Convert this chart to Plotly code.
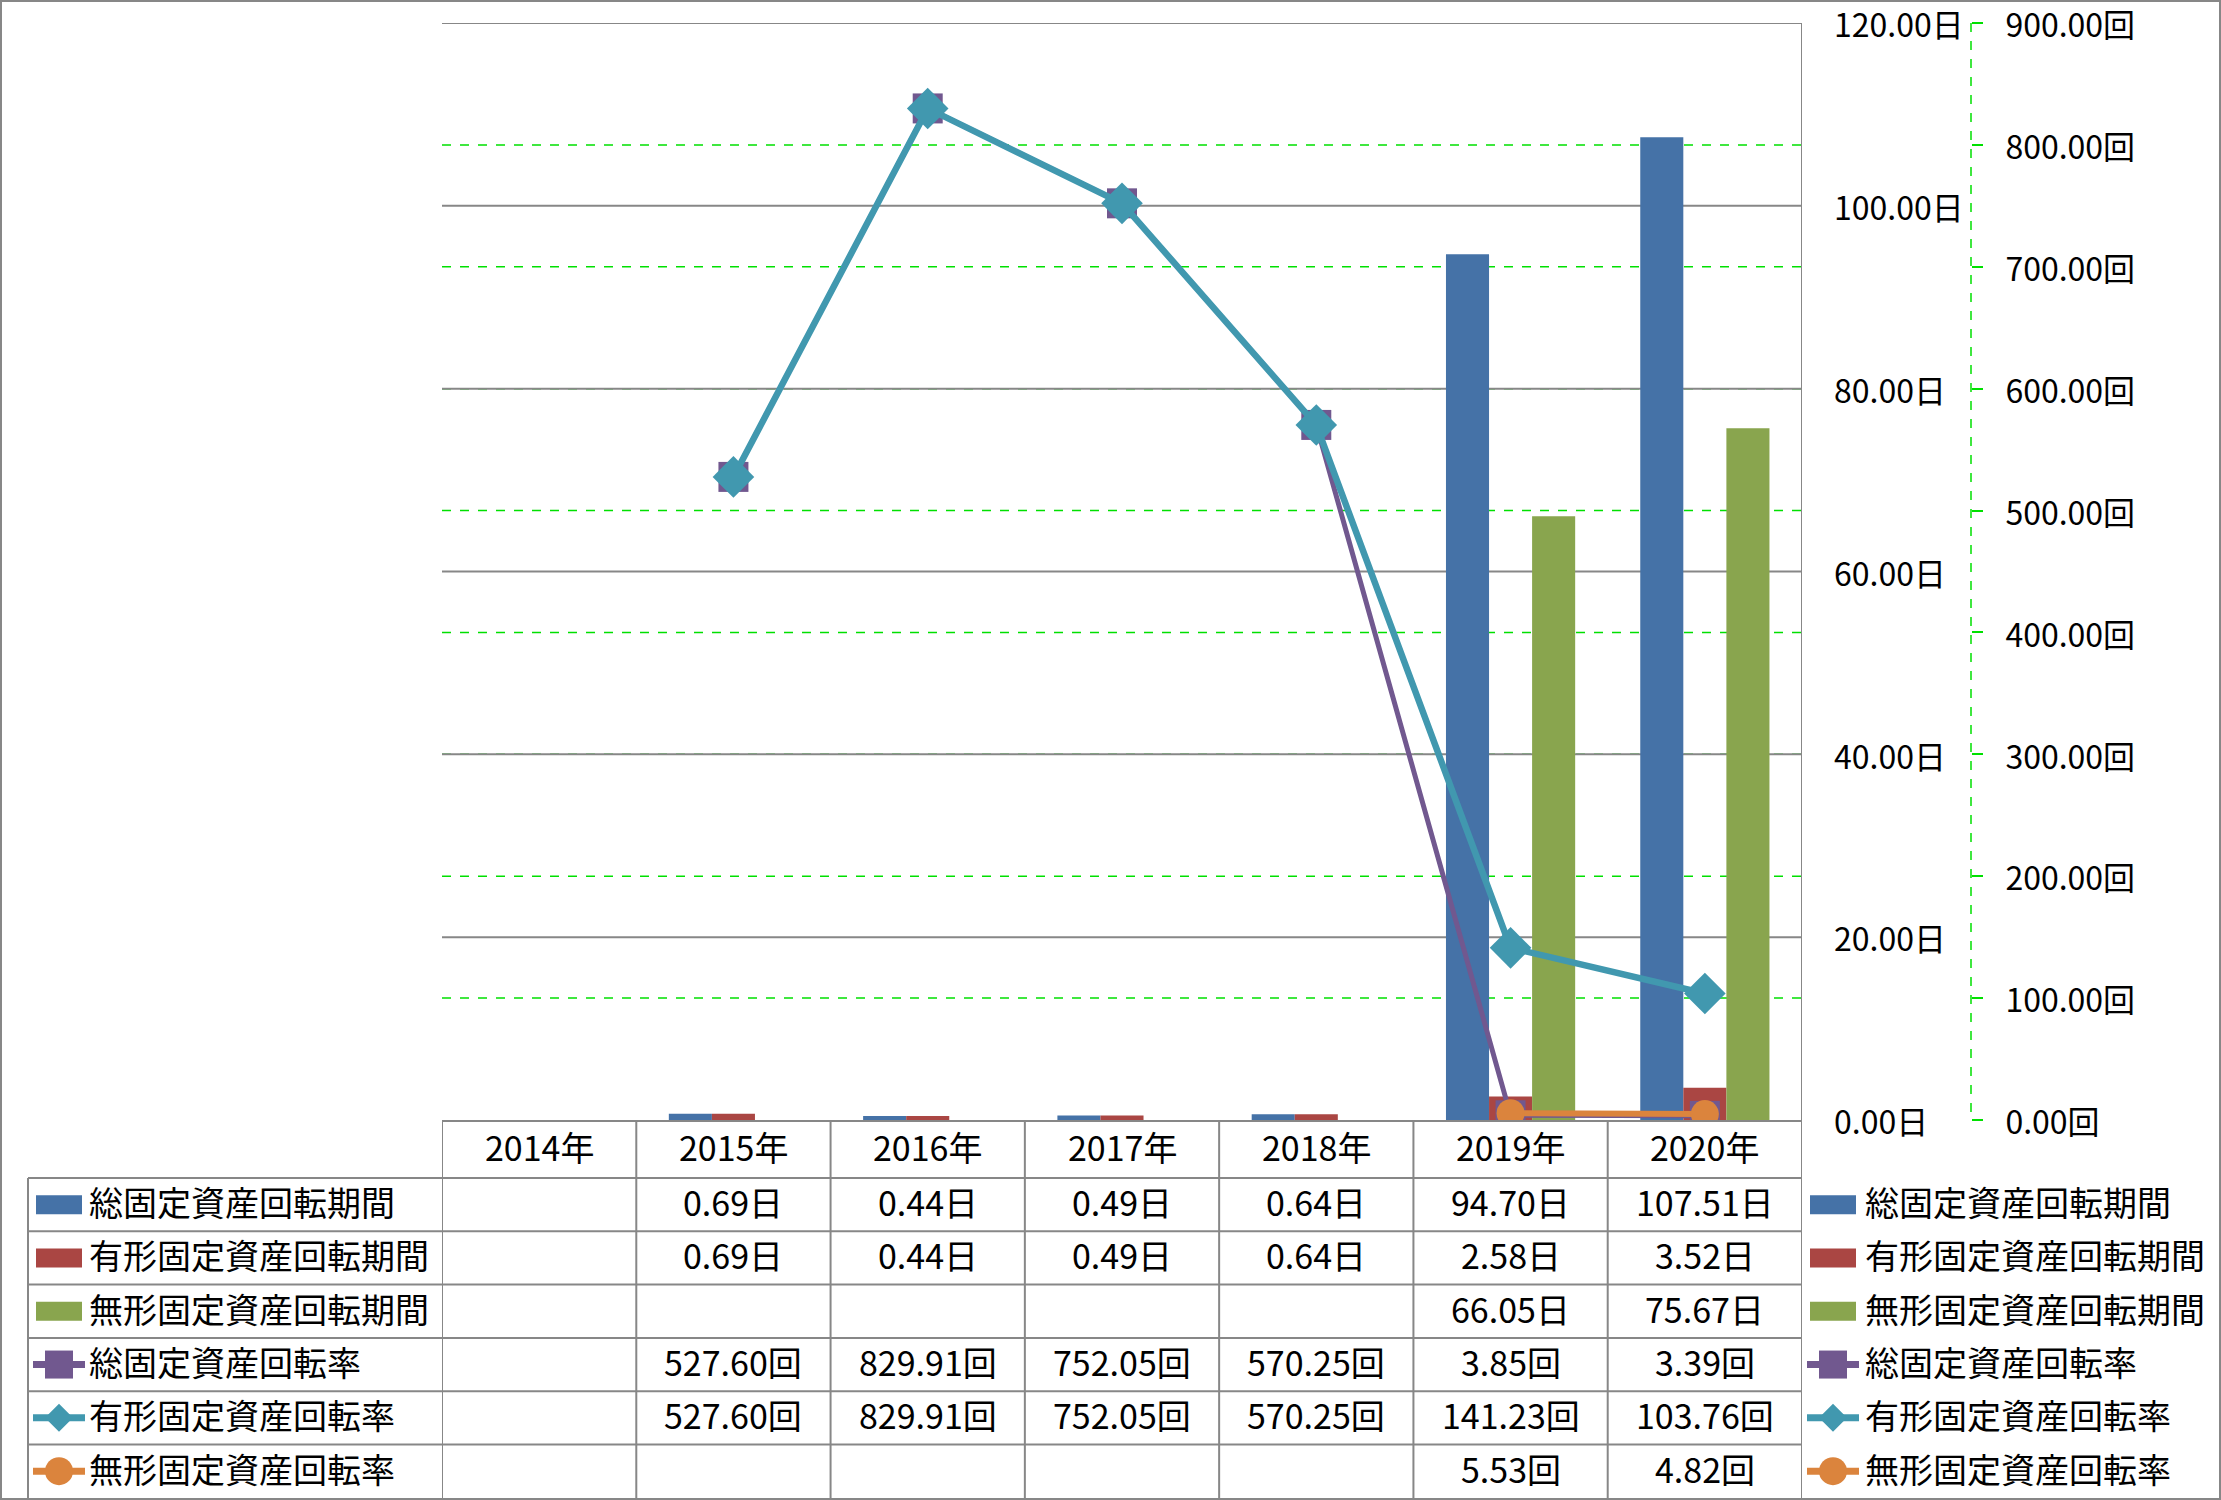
import plotly.graph_objects as go

W, H = 2221, 1500
FONT = "Noto Sans CJK JP"
FS = 34
TICK_FS = 32
GRAY = "#878787"
GREEN = "#00E000"
YSHIFT = 3

# ---------------- data ----------------
years = ["2014年", "2015年", "2016年", "2017年", "2018年", "2019年", "2020年"]

total_period = [None, 0.69, 0.44, 0.49, 0.64, 94.70, 107.51]
tangible_period = [None, 0.69, 0.44, 0.49, 0.64, 2.58, 3.52]
intangible_period = [None, None, None, None, None, 66.05, 75.67]
total_turnover = [None, 527.60, 829.91, 752.05, 570.25, 3.85, 3.39]
tangible_turnover = [None, 527.60, 829.91, 752.05, 570.25, 141.23, 103.76]
intangible_turnover = [None, None, None, None, None, 5.53, 4.82]

names = ["総固定資産回転期間", "有形固定資産回転期間", "無形固定資産回転期間",
         "総固定資産回転率", "有形固定資産回転率", "無形固定資産回転率"]
units = ["日", "日", "日", "回", "回", "回"]
series = [total_period, tangible_period, intangible_period,
          total_turnover, tangible_turnover, intangible_turnover]
colors = ["#4572A7", "#AA4643", "#89A54E", "#71588F", "#4198AF", "#DB843D"]
kinds = ["bar", "bar", "bar", "square", "diamond", "circle"]

day_ticks = [0, 20, 40, 60, 80, 100, 120]
day_labels = ["0.00日", "20.00日", "40.00日", "60.00日", "80.00日", "100.00日", "120.00日"]
count_ticks = [0, 100, 200, 300, 400, 500, 600, 700, 800, 900]
count_labels = ["0.00回", "100.00回", "200.00回", "300.00回", "400.00回", "500.00回",
                "600.00回", "700.00回", "800.00回", "900.00回"]


def X(px):
    return px / W


def Y(py):
    return 1 - py / H


PL, PR, PT, PB = 442, 1802, 23, 1120
TL = 28
ROW_TOP = 1178
ROW_H = 53.3
TB = 1498

fig = go.Figure()

# bars
for i in range(3):
    fig.add_trace(go.Bar(x=years, y=series[i], name=names[i], marker_color=colors[i],
                         marker_line_width=0, yaxis="y", showlegend=False))

# lines
line_widths = [5, 6.5, 6]
marker_sizes = [30, 32, 28]
for j, i in enumerate(range(3, 6)):
    fig.add_trace(go.Scatter(x=years, y=series[i], name=names[i], yaxis="y2",
                             mode="lines+markers",
                             line=dict(color=colors[i], width=line_widths[j]),
                             marker=dict(symbol=kinds[i], size=marker_sizes[j], color=colors[i],
                                         line=dict(width=0)),
                             showlegend=False))

shapes = []
annotations = []


def hline(x0, x1, y, color=GRAY, width=2):
    shapes.append(dict(type="line", xref="paper", yref="paper", x0=X(x0), x1=X(x1),
                       y0=Y(y), y1=Y(y), line=dict(color=color, width=width)))


# secondary (counts) gridlines: green dashed, through the y2 scale
for v in count_ticks[1:]:
    shapes.append(dict(type="line", xref="paper", yref="y2", x0=X(PL), x1=X(PR),
                       y0=v, y1=v, layer="between",
                       line=dict(color=GREEN, width=1.5, dash="dash")))
# primary (days) gridlines: gray solid, drawn over the green ones
for v in day_ticks[1:]:
    shapes.append(dict(type="line", xref="paper", yref="y", x0=X(PL), x1=X(PR),
                       y0=v, y1=v, layer="between", line=dict(color=GRAY, width=2)))

# table horizontal lines
for r in range(6):
    hline(TL, PR, ROW_TOP + r * ROW_H)
# table left vertical line
shapes.append(dict(type="line", xref="paper", yref="paper", x0=X(TL), x1=X(TL),
                   y0=Y(ROW_TOP), y1=Y(TB), line=dict(color=GRAY, width=2)))
# category boundary lines (through the x axis scale)
for k in range(len(years) + 1):
    top = PT if k == len(years) else PB
    shapes.append(dict(type="line", xref="x", yref="paper", x0=k - 0.5, x1=k - 0.5,
                       y0=Y(top), y1=Y(TB), line=dict(color=GRAY, width=2)))
# secondary axis dashed line
X2 = 1971
shapes.append(dict(type="line", xref="paper", yref="paper", x0=X(X2), x1=X(X2),
                   y0=Y(PT), y1=Y(PB), line=dict(color=GREEN, width=1.5, dash="dash")))
# outer border
shapes.append(dict(type="rect", xref="paper", yref="paper", x0=0, x1=1, y0=0, y1=1,
                   line=dict(color=GRAY, width=4)))


def legend_key(cx_line0, cx_line1, cy, i):
    c = colors[i]
    k = kinds[i]
    if k == "bar":
        shapes.append(dict(type="rect", xref="paper", yref="paper",
                           x0=X(cx_line0 + 3), x1=X(cx_line1 - 3),
                           y0=Y(cy - 9.5), y1=Y(cy + 9.5), fillcolor=c, line=dict(width=0)))
        return
    hline(cx_line0, cx_line1, cy, color=c, width=7)
    mx = (cx_line0 + cx_line1) / 2
    r = 14
    if k == "square":
        shapes.append(dict(type="rect", xref="paper", yref="paper",
                           x0=X(mx - r), x1=X(mx + r), y0=Y(cy - r), y1=Y(cy + r),
                           fillcolor=c, line=dict(width=0)))
    elif k == "circle":
        shapes.append(dict(type="circle", xref="paper", yref="paper",
                           x0=X(mx - r), x1=X(mx + r), y0=Y(cy - r), y1=Y(cy + r),
                           fillcolor=c, line=dict(width=0)))
    else:
        path = (f"M {X(mx - r)},{Y(cy)} L {X(mx)},{Y(cy - r)} L {X(mx + r)},{Y(cy)} "
                f"L {X(mx)},{Y(cy + r)} Z")
        shapes.append(dict(type="path", xref="paper", yref="paper", path=path,
                           fillcolor=c, line=dict(width=0)))


txt_font = dict(family=FONT, size=FS, color="black")

# year header
for yr in years:
    annotations.append(dict(x=yr, xref="x", y=Y((PB + ROW_TOP) / 2), yref="paper",
                            text=yr, showarrow=False, xanchor="center", yanchor="middle",
                            yshift=YSHIFT, font=txt_font))

for i in range(6):
    cy = ROW_TOP + ROW_H * (i + 0.5)
    # left table legend
    legend_key(33, 85, cy, i)
    annotations.append(dict(x=X(87), y=Y(cy), xref="paper", yref="paper", text=names[i],
                            showarrow=False, xanchor="left", yanchor="middle",
                            yshift=YSHIFT, font=txt_font))
    # right legend
    legend_key(1807, 1859, cy, i)
    annotations.append(dict(x=X(1863), y=Y(cy), xref="paper", yref="paper", text=names[i],
                            showarrow=False, xanchor="left", yanchor="middle",
                            yshift=YSHIFT, font=txt_font))
    # cell values
    for yr, v in zip(years, series[i]):
        if v is None:
            continue
        annotations.append(dict(x=yr, xref="x", y=Y(cy), yref="paper",
                                text=f"{v:.2f}{units[i]}", showarrow=False,
                                xanchor="center", yanchor="middle", yshift=YSHIFT,
                                font=txt_font))

fig.update_layout(
    width=W, height=H,
    margin=dict(l=0, r=0, t=0, b=0, autoexpand=False),
    paper_bgcolor="white", plot_bgcolor="white",
    barmode="group", bargap=0.335, bargroupgap=0,
    showlegend=False,
    font=dict(family=FONT, size=FS, color="black"),
    xaxis=dict(type="category", categoryorder="array", categoryarray=years,
               domain=[X(PL), X(PR)], range=[-0.5, len(years) - 0.5],
               showticklabels=False, showgrid=False, zeroline=False, automargin=False,
               showline=True, linecolor=GRAY, linewidth=2, ticks=""),
    yaxis=dict(domain=[Y(PB), Y(PT)], range=[0, 120],
               tickmode="array", tickvals=day_ticks, ticktext=day_labels, side="right",
               showgrid=False, zeroline=False, automargin=False,
               showline=False, ticks="", ticklabelstandoff=31, ticklabelshift=3,
               ticklabeloverflow="allow",
               tickfont=dict(family=FONT, size=TICK_FS, color="black")),
    yaxis2=dict(overlaying="y", anchor="free", position=X(X2), side="right",
                range=[0, 900], tickmode="array", tickvals=count_ticks, ticktext=count_labels,
                showgrid=False, zeroline=False, showline=False, automargin=False,
                ticks="outside", ticklen=11, tickcolor=GREEN, tickwidth=1.5,
                ticklabelstandoff=16, ticklabelshift=3, ticklabeloverflow="allow",
                tickfont=dict(family=FONT, size=TICK_FS, color="black")),
    shapes=shapes,
    annotations=annotations,
)

fig.write_html("out.html", post_script="document.body.style.margin='0px';",
               config={"displayModeBar": False})
